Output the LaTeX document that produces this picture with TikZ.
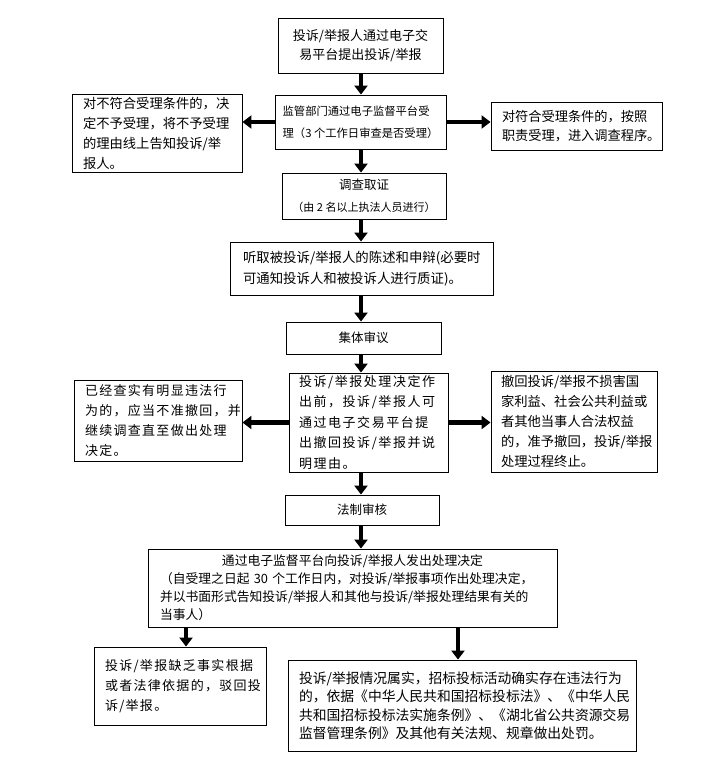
\documentclass[tikz,border=0pt]{standalone}
\usepackage{fontspec}
\setmainfont{Noto Sans CJK SC}
\usetikzlibrary{arrows.meta,calc}

\newcommand{\fs}[2]{\fontsize{#1}{#2}\selectfont}

\begin{document}
\begin{tikzpicture}[x=1pt,y=-1pt,>={Triangle[length=9pt,width=13pt]}]
	\tikzstyle{box}=[draw,line width=0.9pt,inner sep=0pt,align=left]
	\tikzstyle{flow}=[->,line width=4.5pt]

	\useasboundingbox (0,0) rectangle (724,784);

	\node (src) [box,align=center,minimum width=165pt,minimum height=55pt,font=\fs{13}{19}] at (360.5,45.5) {投诉/举报人通过电子交\\易平台提出投诉/举报};

	\node (mon) [box,minimum width=171pt,minimum height=54pt,font=\fs{11.3}{22}] at (360.5,122) {监管部门通过电子监督平台受\\理（3~个工作日审查是否受理）};

	\node (rej) [box,minimum width=170pt,minimum height=78pt,text width=148pt,font=\fs{13.3}{20}] at (157,133) {对不符合受理条件的，决\\定不予受理，将不予受理\\的理由线上告知投诉/举\\报人。};

	\node (acc) [box,minimum width=171pt,minimum height=48pt,text width=149pt,font=\fs{13.2}{19}] at (576.5,126) {对符合受理条件的，按照\\职责受理，进入调查程序。};

	\node (inv) [box,align=center,minimum width=164pt,minimum height=46pt,font=\fs{12.5}{22}] at (364,196) {调查取证\\{\fs{11}{13}（由~2~名以上执法人员进行）}};

	\node (hear) [box,minimum width=263pt,minimum height=53pt,text width=237pt,font=\fs{13.4}{21}] at (361.5,268.5) {听取被投诉/举报人的陈述和申辩(必要时\\可通知投诉人和被投诉人进行质证)。};

	\node (coll) [box,align=center,minimum width=155pt,minimum height=32pt,font=\fs{12.5}{15}] at (363.5,338) {集体审议};

	\node (wd) [box,minimum width=159pt,minimum height=99pt,text width=139pt,font=\fs{13}{20.5}\addfontfeature{LetterSpace=12}] at (368.5,422.5) {投诉/举报处理决定作\\出前，投诉/举报人可\\通过电子交易平台提\\出撤回投诉/举报并说\\明理由。};

	\node (keep) [box,minimum width=168pt,minimum height=81pt,text width=146pt,font=\fs{13}{20}\addfontfeature{LetterSpace=10}] at (158,420.5) {已经查实有明显违法行\\为的，应当不准撤回，并\\继续调查直至做出处理\\决定。};

	\node (stop) [box,minimum width=166pt,minimum height=101pt,text width=146pt,font=\fs{13.3}{20}] at (574,421.5) {撤回投诉/举报不损害国\\家利益、社会公共利益或\\者其他当事人合法权益\\的，准予撤回，投诉/举报\\处理过程终止。};

	\node (law) [box,align=center,minimum width=154pt,minimum height=30pt,font=\fs{12.5}{15}] at (362,510) {法制审核};

	\node (dec) [box,minimum width=409pt,minimum height=78pt,text width=385pt,font=\fs{12.8}{18}] at (352.5,588) {\makebox[385pt]{通过电子监督平台向投诉/举报人发出处理决定}\\（自受理之日起~30~个工作日内，对投诉/举报事项作出处理决定，\\并以书面形式告知投诉/举报人和其他与投诉/举报处理结果有关的\\当事人）};

	\node (dism) [box,minimum width=172pt,minimum height=78pt,text width=150pt,font=\fs{13}{20}\addfontfeature{LetterSpace=10}] at (180,686) {投诉/举报缺乏事实根据\\或者法律依据的，驳回投\\诉/举报。};

	\node (pun) [box,minimum width=348pt,minimum height=91pt,text width=326pt,font=\fs{13.8}{18.5}] at (462,705.5) {投诉/举报情况属实，招标投标活动确实存在违法行为\\的，依据《中华人民共和国招标投标法》、《中华人民\\共和国招标投标法实施条例》、《湖北省公共资源交易\\监督管理条例》及其他有关法规、规章做出处罚。};

	% main line down the middle
	\coordinate (spine) at (361,0);
	\draw [flow] (spine |- src.south) -- (spine |- mon.north);
	\draw [flow] (spine |- mon.south) -- (spine |- inv.north);
	\draw [flow] (spine |- inv.south) -- (spine |- hear.north);
	\draw [flow] (spine |- hear.south) -- (spine |- coll.north);
	\draw [flow] (spine |- coll.south) -- (spine |- wd.north);
	\draw [flow] (spine |- wd.south) -- (spine |- law.north);
	\draw [flow] (spine |- law.south) -- (spine |- dec.north);

	% side branches
	\draw [flow] (mon.west) -- (mon.west -| rej.east);
	\draw [flow] (mon.east) -- (mon.east -| acc.west);
	\draw [flow] (wd.west) -- (wd.west -| keep.east);
	\draw [flow] (wd.east) -- (wd.east -| stop.west);

	\coordinate (lt) at (186,0);
	\coordinate (rt) at (458,0);
	\draw [flow] (lt |- dec.south) -- (lt |- dism.north);
	\draw [flow] (rt |- dec.south) -- (rt |- pun.north);
\end{tikzpicture}
\end{document}
